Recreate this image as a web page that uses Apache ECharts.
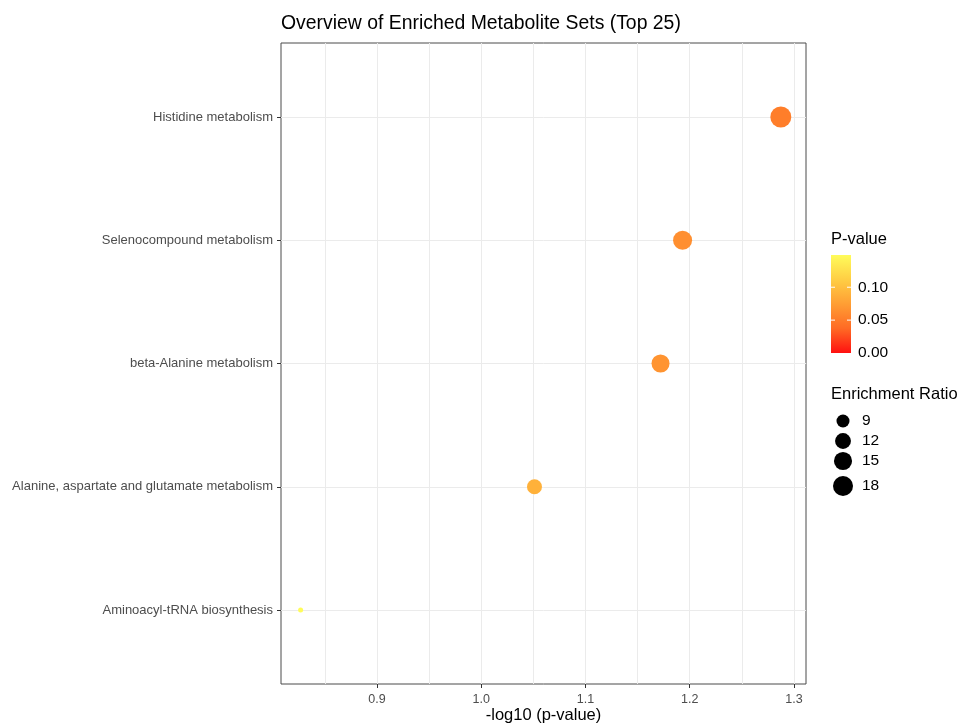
<!DOCTYPE html>
<html>
<head>
<meta charset="utf-8">
<script src="https://cdn.jsdelivr.net/npm/echarts@6/dist/echarts.min.js"></script>
<style>
html,body{margin:0;padding:0;background:#fff;}
#chart{width:962px;height:724px;}
</style>
</head>
<body>
<div id="chart"></div>
<script>
// ---- data ----
var categories = ['Histidine metabolism', 'Selenocompound metabolism', 'beta-Alanine metabolism',
  'Alanine, aspartate and glutamate metabolism', 'Aminoacyl-tRNA biosynthesis'];
var pValues = [0.0516, 0.0641, 0.0673, 0.0889, 0.149];
var enrichmentRatios = [19.7, 16.4, 14.9, 11.0, 5.4];
var xTicks = [0.9, 1.0, 1.1, 1.2, 1.3];
var colorTicks = [0.00, 0.05, 0.10];
var sizeLegendValues = [9, 12, 15, 18];

// ---- helpers ----
var FONT = 'Liberation Sans, Arial, Helvetica, sans-serif';
var gradColors = ['#FF1010', '#FF6A24', '#FF9E34', '#FFCE44', '#FFFC5A'];
var pMax = Math.max.apply(null, pValues);
var rMin = Math.min.apply(null, enrichmentRatios);
var rMax = Math.max.apply(null, enrichmentRatios);
function sizeOf(r) {
  var t = (r - rMin) / (rMax - rMin);
  t = Math.max(0, Math.min(1, t));
  return 5 + 16 * Math.sqrt(t);
}

var points = categories.map(function (c, i) {
  return [-Math.log10(pValues[i]), i, pValues[i], enrichmentRatios[i]];
});
var catIdx = categories.map(function (c, i) { return i; });
// grid lines: major ticks plus midpoints (minor)
var xGrid = [];
xTicks.forEach(function (v) { xGrid.push(+(v - 0.05).toFixed(2)); xGrid.push(v); });

var X_MIN = 0.808, X_MAX = 1.3115;
var Y_MIN = -0.6, Y_MAX = categories.length - 0.4;

// ---- legend graphics ----
var gfx = [];
var cbX = 831, cbY = 255, cbW = 20, cbH = 98;
gfx.push({ type: 'text', left: 831, top: 231, style: { text: 'P-value', font: '16.5px ' + FONT, fill: '#000' } });
var stops = gradColors.map(function (c, k) { return { offset: k / (gradColors.length - 1), color: c }; });
gfx.push({ type: 'rect', shape: { x: cbX, y: cbY, width: cbW, height: cbH },
  style: { fill: new echarts.graphic.LinearGradient(0, 1, 0, 0, stops) } });
colorTicks.forEach(function (v) {
  var y = cbY + cbH - (v / pMax) * cbH;
  if (v > 0) {
    gfx.push({ type: 'line', shape: { x1: cbX, y1: y, x2: cbX + 4, y2: y }, style: { stroke: '#fff', lineWidth: 1 } });
    gfx.push({ type: 'line', shape: { x1: cbX + cbW - 4, y1: y, x2: cbX + cbW, y2: y }, style: { stroke: '#fff', lineWidth: 1 } });
  }
  gfx.push({ type: 'text', x: 858, y: y, style: { text: v.toFixed(2), font: '15.5px ' + FONT, fill: '#000', verticalAlign: 'middle' } });
});
gfx.push({ type: 'text', left: 831, top: 386, style: { text: 'Enrichment Ratio', font: '16.5px ' + FONT, fill: '#000' } });
var legYs = [421, 441, 461, 486];
sizeLegendValues.forEach(function (v, k) {
  gfx.push({ type: 'circle', shape: { cx: 843, cy: legYs[k], r: sizeOf(v) / 2 }, style: { fill: '#000' } });
  gfx.push({ type: 'text', x: 862, y: legYs[k], style: { text: String(v), font: '15.5px ' + FONT, fill: '#000', verticalAlign: 'middle' } });
});

var chart = echarts.init(document.getElementById('chart'), null, { renderer: 'canvas' });
chart.setOption({
  animation: false,
  backgroundColor: '#fff',
  title: {
    text: 'Overview of Enriched Metabolite Sets (Top 25)',
    left: 276, top: 9,
    textStyle: { fontFamily: FONT, fontSize: 19.4, fontWeight: 'normal', color: '#000' }
  },
  grid: { left: 281, top: 43, width: 525, height: 641, outerBoundsMode: 'none', containLabel: false,
    show: true, borderColor: '#4a4a4a', borderWidth: 1, backgroundColor: 'transparent' },
  xAxis: [{
    type: 'value', min: X_MIN, max: X_MAX, position: 'bottom',
    name: '-log10 (p-value)', nameLocation: 'middle', nameGap: 23, nameMoveOverlap: false,
    nameTextStyle: { fontFamily: FONT, fontSize: 16.5, color: '#000' },
    axisLine: { show: false, onZero: false },
    axisTick: { show: true, length: 4, lineStyle: { color: '#333' }, customValues: xTicks },
    axisLabel: { customValues: xTicks, margin: 9, fontFamily: FONT, fontSize: 12.5, color: '#4D4D4D',
      formatter: function (v) { return v.toFixed(1); } },
    splitLine: { show: false }
  }, {
    type: 'value', min: X_MIN, max: X_MAX, position: 'bottom',
    axisLine: { show: false, onZero: false }, axisTick: { show: false, customValues: xGrid }, axisLabel: { show: false, customValues: xGrid },
    splitLine: { show: true, showMinLine: true, showMaxLine: true, lineStyle: { color: '#EBEBEB', width: 1 } }
  }],
  yAxis: [{
    type: 'value', inverse: true, min: Y_MIN, max: Y_MAX, position: 'left',
    axisLine: { show: false, onZero: false },
    axisTick: { show: true, length: 4, lineStyle: { color: '#333' }, customValues: catIdx },
    axisLabel: { customValues: catIdx, margin: 8, fontFamily: FONT, fontSize: 13, color: '#4D4D4D',
      formatter: function (v) { return categories[Math.round(v)]; } },
    splitLine: { show: false }
  }, {
    type: 'value', inverse: true, min: Y_MIN, max: Y_MAX, position: 'left',
    axisLine: { show: false, onZero: false }, axisTick: { show: false, customValues: catIdx }, axisLabel: { show: false, customValues: catIdx },
    splitLine: { show: true, showMinLine: true, showMaxLine: true, lineStyle: { color: '#EBEBEB', width: 1 } }
  }],
  visualMap: {
    show: false, type: 'continuous', min: 0, max: pMax, dimension: 2, seriesIndex: 0,
    inRange: { color: gradColors }
  },
  series: [
    {
      type: 'scatter', z: 3, data: points,
      xAxisIndex: 0, yAxisIndex: 0,
      encode: { x: 0, y: 1 },
      symbolSize: function (val) { return sizeOf(val[3]); },
      itemStyle: { opacity: 1 }
    }
  ],
  graphic: gfx
});
</script>
</body>
</html>
